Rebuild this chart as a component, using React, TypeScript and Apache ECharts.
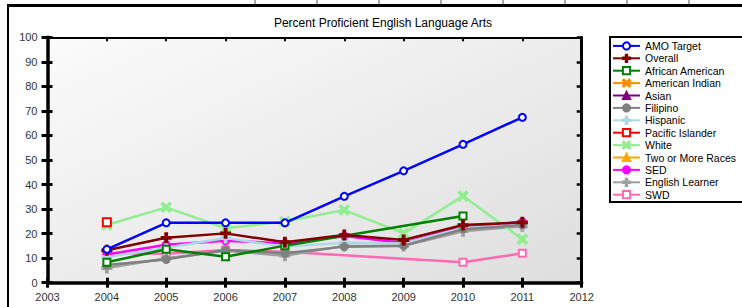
import React, { useEffect, useRef } from "react";
import * as echarts from "echarts";

const years = [2004, 2005, 2006, 2007, 2008, 2009, 2010, 2011];
const amoTarget = [13.6, 24.4, 24.4, 24.4, 35.2, 45.6, 56.4, 67.4];
const overall = [13.2, 18.3, 20.1, 16.5, 19.4, 17.4, 23.5, 24.6];
const africanAmerican = [8.3, 13.6, 10.6, 15.1, null, null, 27.2, null];
const americanIndian: (number | null)[] = [null, null, null, null, null, null, null, null];
const asian: (number | null)[] = [null, null, null, null, null, null, null, null];
const filipino = [7.2, 9.5, 13.3, 12.0, 14.7, 15.1, 21.8, 23.5];
const hispanic = [10.5, 14.2, 18.2, 14.7, 16.3, 16.0, 22.3, 23.6];
const pacificIslander = [24.6, null, null, null, null, null, null, null];
const white = [23.5, 30.7, 22.2, 24.9, 29.6, 20.1, 35.3, 17.7];
const twoOrMore: (number | null)[] = [null, null, null, null, null, null, null, null];
const sed = [11.5, 15.5, 17.1, 16.0, 19.0, 16.2, 22.5, 24.8];
const englishLearner = [6.0, 10.0, 13.0, 11.0, 15.0, 15.0, 21.0, 23.0];
const swd = [12.0, 11.8, 13.3, 12.6, null, null, 8.3, 12.0];

const xTicks = [2003, 2012];
const yRange = [0, 100];

const PLUS = "path://M4,0H6V4H10V6H6V10H4V6H0V4H4Z";
const CROSS = "path://M0,1.4L1.4,0L5,3.6L8.6,0L10,1.4L6.4,5L10,8.6L8.6,10L5,6.4L1.4,10L0,8.6L3.6,5Z";

type S = { name: string; data: (number | null)[]; color: string; symbol: string; size: number };

const seriesDefs: S[] = [
  { name: "AMO Target", data: amoTarget, color: "#0000ff", symbol: "emptyCircle", size: 7 },
  { name: "Overall", data: overall, color: "#800000", symbol: PLUS, size: 9 },
  { name: "African American", data: africanAmerican, color: "#008000", symbol: "emptyRect", size: 7 },
  { name: "American Indian", data: americanIndian, color: "#ff8c00", symbol: CROSS, size: 9 },
  { name: "Asian", data: asian, color: "#800080", symbol: "triangle", size: 8 },
  { name: "Filipino", data: filipino, color: "#808080", symbol: "circle", size: 7 },
  { name: "Hispanic", data: hispanic, color: "#add8e6", symbol: PLUS, size: 9 },
  { name: "Pacific Islander", data: pacificIslander, color: "#ff0000", symbol: "emptyRect", size: 8 },
  { name: "White", data: white, color: "#90ee90", symbol: CROSS, size: 9 },
  { name: "Two or More Races", data: twoOrMore, color: "#ffa500", symbol: "triangle", size: 8 },
  { name: "SED", data: sed, color: "#ff00ff", symbol: "circle", size: 7 },
  { name: "English Learner", data: englishLearner, color: "#a0a0a0", symbol: PLUS, size: 9 },
  { name: "SWD", data: swd, color: "#ff69b4", symbol: "emptyRect", size: 7 },
];

const tableDividers = [255, 317, 379, 441, 503, 565, 627, 689];

export default function App() {
  const ref = useRef<HTMLDivElement>(null);
  useEffect(() => {
    document.body.style.margin = "0";
    const chart = echarts.init(ref.current!, null, { renderer: "svg" });
    const font = "Liberation Sans, Arial, sans-serif";
    const grid = { left: 47.5, right: 160.3, top: 37.3, bottom: 24.3 };
    const option: any = {
      animation: false,
      backgroundColor: "#ffffff",
      title: {
        text: "Percent Proficient English Language Arts",
        left: 378,
        textAlign: "center",
        top: 12,
        textStyle: { fontFamily: font, fontSize: 12, fontWeight: "normal", color: "#000" },
      },
      graphic: [
        { type: "line", shape: { x1: 7, y1: 5.5, x2: 742, y2: 5.5 }, style: { stroke: "#000", lineWidth: 3 }, z: 0 },
        { type: "line", shape: { x1: 8, y1: 4, x2: 8, y2: 307 }, style: { stroke: "#000", lineWidth: 2 }, z: 0 },
        ...tableDividers.map((x) => ({ type: "line", shape: { x1: x, y1: 0, x2: x, y2: 4 }, style: { stroke: "#555", lineWidth: 1 }, z: 0 })),
        { type: "rect", shape: { x: 610, y: 37, width: 200, height: 165 }, style: { fill: "#fff", stroke: "#000", lineWidth: 2 }, z: 0 },
      ],
      legend: {
        orient: "vertical",
        left: 612,
        top: 40,
        padding: 0,
        itemWidth: 27,
        itemHeight: 9,
        itemGap: 0.6,
        z: 10,
        textStyle: { fontFamily: font, fontSize: 10.5, color: "#000", lineHeight: 11.8, padding: [0, 0, 0, 0] },
        data: seriesDefs.map((s) => s.name),
      },
      grid: {
        ...grid,
        show: true,
        borderWidth: 0,
        backgroundColor: new echarts.graphic.LinearGradient(0, 0, 1, 1, [
          { offset: 0, color: "#fbfbfb" },
          { offset: 1, color: "#dedede" },
        ]),
      },
      xAxis: [
        {
          type: "value", min: xTicks[0], max: xTicks[1], interval: 1, position: "bottom",
          axisLine: { show: true, onZero: false, lineStyle: { color: "#000", width: 3.5 } },
          axisTick: { show: true, length: 5, lineStyle: { color: "#000", width: 3 } },
          axisLabel: { margin: 9, fontFamily: font, fontSize: 11, color: "#333", formatter: (v: number) => String(v) },
          splitLine: { show: false },
        },
        {
          type: "value", min: xTicks[0], max: xTicks[1], interval: 1, position: "bottom",
          axisLine: { show: false, onZero: false },
          axisTick: { show: true, inside: true, length: 5, lineStyle: { color: "#000", width: 3 } },
          axisLabel: { show: false }, splitLine: { show: false },
        },
        {
          type: "value", min: xTicks[0], max: xTicks[1], interval: 1, position: "top",
          axisLine: { show: true, onZero: false, lineStyle: { color: "#000", width: 2 } },
          axisTick: { show: true, inside: true, length: 4, lineStyle: { color: "#000", width: 2 } },
          axisLabel: { show: false }, splitLine: { show: false },
        },
      ],
      yAxis: [
        {
          type: "value", min: yRange[0], max: yRange[1], interval: 10, position: "left",
          axisLine: { show: true, onZero: false, lineStyle: { color: "#000", width: 3.5 } },
          axisTick: { show: true, length: 6, lineStyle: { color: "#000", width: 3 } },
          axisLabel: { margin: 10, fontFamily: font, fontSize: 11, color: "#333" },
          splitLine: { show: false },
        },
        {
          type: "value", min: yRange[0], max: yRange[1], interval: 10, position: "left",
          axisLine: { show: false, onZero: false },
          axisTick: { show: true, inside: true, length: 5, lineStyle: { color: "#000", width: 3 } },
          axisLabel: { show: false }, splitLine: { show: false },
        },
        {
          type: "value", min: yRange[0], max: yRange[1], interval: 10, position: "right",
          axisLine: { show: true, onZero: false, lineStyle: { color: "#000", width: 3 } },
          axisTick: { show: true, inside: true, length: 5, lineStyle: { color: "#000", width: 2.5 } },
          axisLabel: { show: false }, splitLine: { show: false },
        },
      ],
      series: seriesDefs.map((s, i) => ({
        name: s.name,
        type: "line",
        xAxisIndex: 0,
        yAxisIndex: 0,
        z: 20 - i,
        data: years.map((y, k) => [y, s.data[k]]).filter((p) => p[1] !== null),
        connectNulls: true,
        color: s.color,
        symbol: s.symbol,
        symbolSize: s.size,
        showAllSymbol: true,
        lineStyle: { width: 2.5, color: s.color },
        itemStyle: { color: s.color, borderColor: s.color, borderWidth: 2 },
        emphasis: { disabled: true },
      })),
    };
    chart.setOption(option);
    return () => chart.dispose();
  }, []);
  return <div ref={ref} style={{ width: 742, height: 307 }} />;
}
